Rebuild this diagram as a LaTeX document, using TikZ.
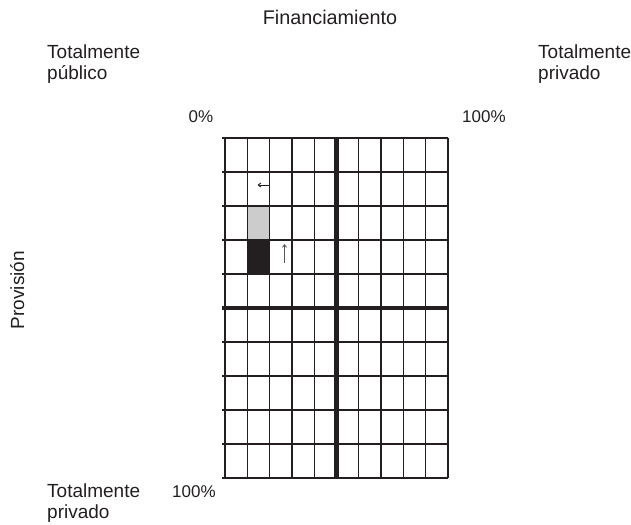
\documentclass[tikz,border=0pt]{standalone}
\usepackage{fontspec}
\setmainfont{Liberation Sans}
\usepackage{xcolor}
\usetikzlibrary{arrows.meta}
\definecolor{gridink}{HTML}{231F20}
\definecolor{cellgray}{HTML}{CCCCCC}
\tikzset{
	caption/.style={inner sep=0pt, text=gridink, font=\fontsize{19bp}{21bp}\selectfont},
	pct/.style={inner sep=0pt, text=gridink, font=\fontsize{17bp}{20bp}\selectfont},
	gridline/.style={draw=gridink, line width=1.3bp},
	axisline/.style={draw=gridink, line width=4.2bp},
	moveto/.style={line width=0.9bp, -{Straight Barb[length=2.6bp, width=4bp]}}
}

\begin{document}
\begin{tikzpicture}[x=1bp, y=-1bp]
	\useasboundingbox (0,0) rectangle (631,525);

	\fill[cellgray]	(247.3,206) rectangle (269.6,240);
	\fill[gridink]	(247.3,240) rectangle (269.6,274);

	\foreach \i in {0,...,10}
		\draw[gridline] ({225+\i*22.3},138) -- ({225+\i*22.3},478);
	\foreach \j in {0,...,10}
		\draw[gridline] (222,{138+\j*34}) -- (448,{138+\j*34});

	\draw[axisline]	(336.5,138) -- (336.5,478);
	\draw[axisline]	(222,308) -- (448,308);

	\coordinate (lefttail) at (269,185);
	\coordinate (lefthead) at (257.5,185);
	\coordinate (uptail) at (284.5,263);
	\coordinate (uphead) at (284.5,244);
	\draw[moveto, gridink]			(lefttail) -- (lefthead);
	\draw[moveto, gridink!75]		(uptail) -- (uphead);

	\node[caption, anchor=base, font=\fontsize{19.8bp}{22bp}\selectfont] (fin) at (330,25) {Financiamiento};
	\node[caption, anchor=north west, align=left] (pubtop) at (47,44.5) {Totalmente\\público};
	\node[caption, anchor=north west, align=left] (privtop) at (538,44.5) {Totalmente\\privado};
	\node[caption, anchor=north west, align=left] (privbot) at (47,483.5) {Totalmente\\privado};
	\node[caption, anchor=base, rotate=90] (prov) at (24,290) {Provisión};

	\node[pct, anchor=base] (zero) at (201,123) {0\%};
	\node[pct, anchor=base west] (fullx) at (462,123) {100\%};
	\node[pct, anchor=base west] (fully) at (172,497) {100\%};
\end{tikzpicture}
\end{document}
